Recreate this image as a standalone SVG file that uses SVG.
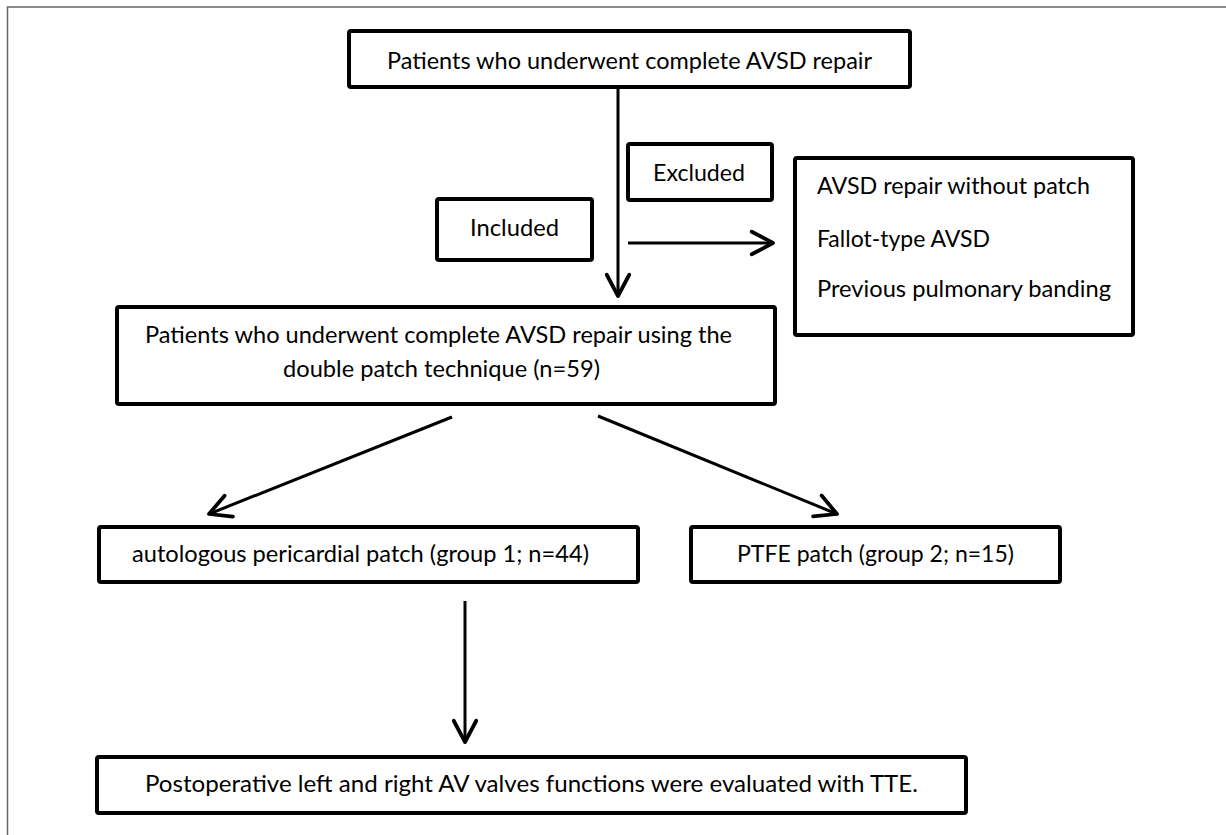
<svg xmlns="http://www.w3.org/2000/svg" width="1226" height="835" viewBox="0 0 1226 835">
<style>
.box{fill:#fff;stroke:#000;stroke-width:4;}
.t{font-family:Lato,"Open Sans",sans-serif;font-size:23.5px;fill:#000;}
.c{stroke:#000;stroke-width:3;fill:none;}
</style>
<defs>
<marker id="ah" markerUnits="userSpaceOnUse" markerWidth="30" markerHeight="30" viewBox="-20 -12 24 24" refX="0" refY="0" orient="auto">
<path d="M-17,-9 L0,0 L-17,9" fill="none" stroke="#000" stroke-width="3" stroke-linecap="round" stroke-linejoin="round"/>
</marker>
</defs>
<rect width="1226" height="835" fill="#fff"/>
<path d="M7.5,835 V7 H1226" fill="none" stroke="#666" stroke-width="1.5"/>
<g id="connectors">
<line class="c" x1="618" y1="87" x2="618" y2="296" marker-end="url(#ah)"/>
<line class="c" x1="628" y1="243" x2="773" y2="243" marker-end="url(#ah)"/>
<line class="c" x1="452" y1="417" x2="209" y2="514" marker-end="url(#ah)"/>
<line class="c" x1="598" y1="416" x2="837" y2="514" marker-end="url(#ah)"/>
<line class="c" x1="465" y1="601" x2="465" y2="742" marker-end="url(#ah)"/>
</g>
<g id="n_top"><rect class="box" x="349" y="31" width="561" height="56" rx="2"/><text class="t" x="387" y="69" textLength="485" lengthAdjust="spacingAndGlyphs">Patients who underwent complete AVSD repair</text></g>
<g id="n_excluded"><rect class="box" x="628" y="144" width="144" height="56" rx="2"/><text class="t" x="653" y="181" textLength="92" lengthAdjust="spacingAndGlyphs">Excluded</text></g>
<g id="n_included"><rect class="box" x="437" y="199" width="155" height="61" rx="2"/><text class="t" x="470" y="236" textLength="89" lengthAdjust="spacingAndGlyphs">Included</text></g>
<g id="n_list"><rect class="box" x="795" y="158" width="338" height="177" rx="2"/>
<text class="t" x="817" y="194" textLength="273" lengthAdjust="spacingAndGlyphs">AVSD repair without patch</text>
<text class="t" x="817" y="247" textLength="173" lengthAdjust="spacingAndGlyphs">Fallot-type AVSD</text>
<text class="t" x="817" y="297" textLength="294" lengthAdjust="spacingAndGlyphs">Previous pulmonary banding</text></g>
<g id="n_double"><rect class="box" x="117" y="307" width="658" height="97" rx="2"/>
<text class="t" x="145" y="343" textLength="587" lengthAdjust="spacingAndGlyphs">Patients who underwent complete AVSD repair using the</text>
<text class="t" x="283" y="377" textLength="317" lengthAdjust="spacingAndGlyphs">double patch technique (n=59)</text></g>
<g id="n_group1"><rect class="box" x="99" y="527" width="539" height="55" rx="2"/><text class="t" x="132" y="562" textLength="457" lengthAdjust="spacingAndGlyphs">autologous pericardial patch (group 1; n=44)</text></g>
<g id="n_group2"><rect class="box" x="691" y="527" width="369" height="55" rx="2"/><text class="t" x="737" y="562" textLength="277" lengthAdjust="spacingAndGlyphs">PTFE patch (group 2; n=15)</text></g>
<g id="n_bottom"><rect class="box" x="97" y="757" width="869" height="56" rx="2"/><text class="t" x="145" y="792" textLength="773" lengthAdjust="spacingAndGlyphs">Postoperative left and right AV valves functions were evaluated with TTE.</text></g>
</svg>
